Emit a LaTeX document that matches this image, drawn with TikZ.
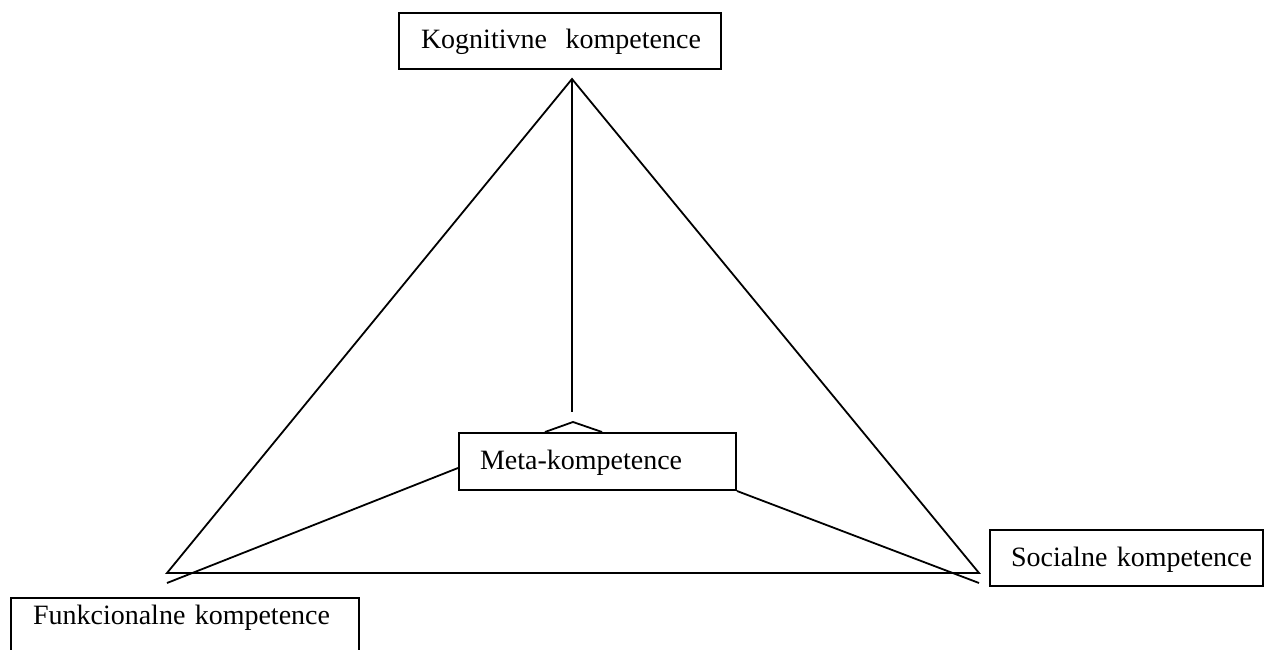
\documentclass[tikz,border=0pt]{standalone}
\usepackage{fontspec}
\setmainfont{Liberation Serif}
\usetikzlibrary{calc}
\newcommand\lbfont{\fontsize{28}{32}\selectfont}
\begin{document}
\begin{tikzpicture}[x=1pt,y=-1pt,
  box/.style={draw, line width=2pt, inner ysep=0pt, align=left, font=\lbfont, anchor=north west, text height=36pt, text depth=20pt},
  conn/.style={line width=1.8pt}]
\useasboundingbox (0,0) rectangle (1266,650);
% boxes
\node[box, inner xsep=22pt, text width=278pt] (kog) at (398,12) {\mbox{Kognitivne~~kompetence}};
\node[box, inner xsep=21pt, text width=235pt, text depth=21pt] (meta) at (458,432) {\mbox{Meta-kompetence}};
\node[box, inner xsep=21pt, text width=231pt] (soc) at (989,529) {\mbox{Socialne kompetence}};
\node[box, inner xsep=22pt, text width=304pt, text height=26pt, text depth=40pt] (fun) at (10,597) {\mbox{Funkcionalne kompetence}};
% coordinates
\coordinate (apex) at (572,79);
\coordinate (bl) at (167,573);
\coordinate (br) at (979,573);
\coordinate (vtip) at (572,412);
\coordinate (wpeak) at (573,422);
\coordinate (wl) at (545,432);
\coordinate (wr) at (602,432);
\coordinate (ml) at (458,468);
\coordinate (lend) at (167,583);
\coordinate (rend) at (979,583);
% triangle
\draw[conn, line join=miter] (apex) -- (bl) -- (br) -- cycle;
\draw[conn] (apex) -- (vtip);
\draw[conn] (wl) -- (wpeak) -- (wr);
\draw[conn] (ml) -- (lend);
\draw[conn] (meta.south east) -- (rend);
\end{tikzpicture}
\end{document}
